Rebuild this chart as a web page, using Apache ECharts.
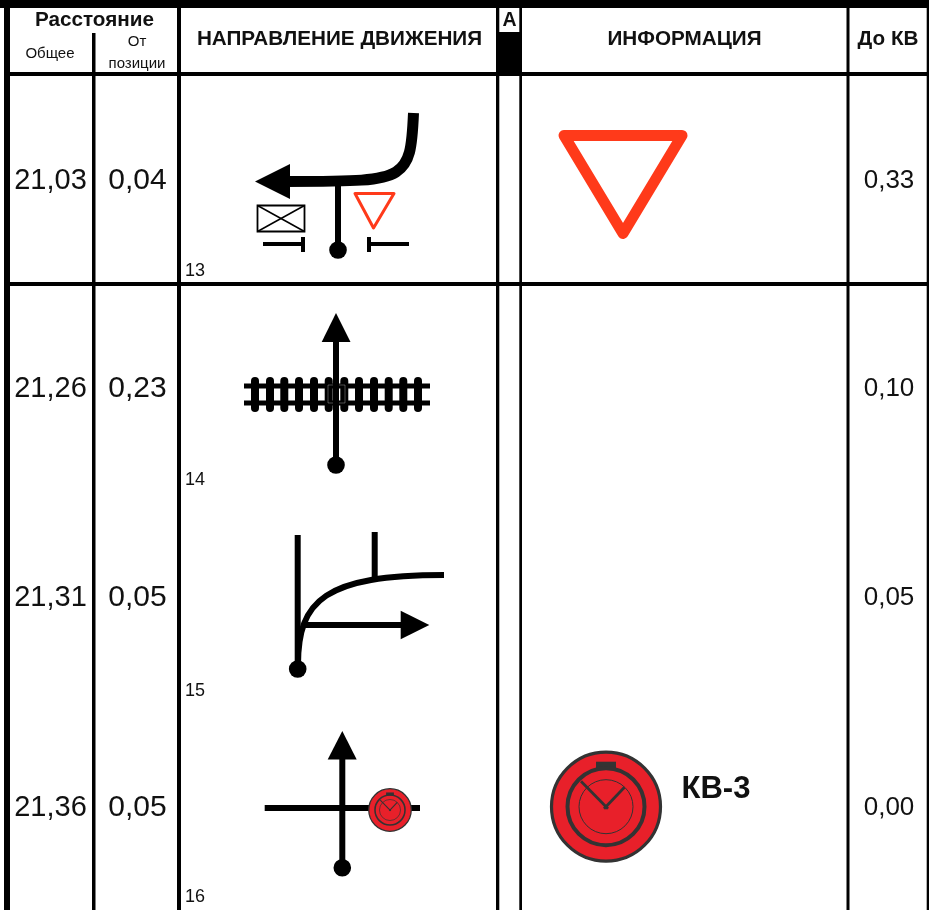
<!DOCTYPE html>
<html><head><meta charset="utf-8">
<style>html,body{margin:0;padding:0;background:#fff}#c{width:929px;height:910px}</style>
<script src="https://cdn.jsdelivr.net/npm/echarts@6/dist/echarts.min.js"></script>
</head><body><div id="c"></div>
<script>
// ---- table content ----
const totalDistance = ['21,03', '21,26', '21,31', '21,36'];
const fromPosition  = ['0,04', '0,23', '0,05', '0,05'];
const toControl     = ['0,33', '0,10', '0,05', '0,00'];
const rowNumbers    = ['13', '14', '15', '16'];
const headerMain    = ['Расстояние', 'НАПРАВЛЕНИЕ ДВИЖЕНИЯ', 'А', 'ИНФОРМАЦИЯ', 'До КВ'];
const headerSub     = ['Общее', 'От', 'позиции'];
const controlLabel  = 'КВ-3';
const trackTies     = [255, 270, 284.3, 299, 314, 328.7, 344.3, 359, 374, 388.7, 403.3, 418];

// ---- layout (axis units = page pixels) ----
const rowY = [181, 389, 598, 808];
const numY = [271, 480, 691, 897];
const BLACK = '#000', RED = '#ff3a1a', TXT = '#111', FONT = 'Liberation Sans';
const box = (x0, y0, x1, y1, fill) => ({ d: [['M', x0, y0], ['L', x1, y0], ['L', x1, y1], ['L', x0, y1], ['Z']], fill: fill || BLACK });
const line = (pts, w, color, extra) => Object.assign({ d: pts.map((p, i) => [i ? 'L' : 'M', p[0], p[1]]), stroke: color || BLACK, w: w }, extra || {});
const curve = (d, w, color) => ({ d: d, stroke: color || BLACK, w: w });
const tri = (a, b, c, fill) => ({ d: [['M', a[0], a[1]], ['L', b[0], b[1]], ['L', c[0], c[1]], ['Z']], fill: fill || BLACK });
const ring = (a, b, c, w, color) => ({ d: [['M', a[0], a[1]], ['L', b[0], b[1]], ['L', c[0], c[1]], ['Z']], stroke: color, w: w, join: 'round' });
const dot = (x, y, r, fill, stroke, w) => ({ c: [x, y], r: r, fill: fill || BLACK, stroke: stroke, w: w });

const rules = [
  box(0, 0, 929, 8),
  box(4, 0, 10, 910),
  box(926.7, 0, 929, 910),
  box(10, 72, 927, 76),
  box(10, 282, 927, 286),
  box(92, 33, 95.5, 910),
  box(177, 0, 181, 910),
  box(496, 0, 522, 76),
  box(499.3, 8, 519.3, 32, '#fff'),
  box(496, 76, 499.3, 910),
  box(519.3, 76, 522, 910),
  box(846.5, 0, 849.5, 910)
];

function clock(cx, cy, k) {
  const dk = '#333';
  return [
    dot(cx, cy, 54.5 * k, '#e8202a', dk, 3.2 * k),
    box(cx - 10 * k, cy - 45 * k, cx + 10 * k, cy - 37 * k, dk),
    dot(cx, cy, 38.5 * k, 'none', dk, 4 * k),
    dot(cx, cy, 27 * k, 'none', dk, Math.max(0.7, 1 * k)),
    line([[cx - 25 * k, cy - 25.5 * k], [cx + 2 * k, cy + 2 * k]], 2.8 * k, dk),
    line([[cx + 18.5 * k, cy - 19.5 * k], [cx - 2 * k, cy + 2 * k]], 2.8 * k, dk)
  ];
}

const glyphs = [
  // row 13
  line([[338, 184], [338, 250]], 6),
  dot(338, 250, 8.8),
  curve([['M', 413.5, 113], ['C', 412, 148, 410, 163, 396, 172], ['C', 382, 181, 355, 181.5, 285, 181.5]], 11),
  tri([255, 181.5], [290, 164], [290, 199]),
  ring([355, 193.5], [394, 193.5], [373.5, 228], 3, RED),
  { d: [['M', 257.5, 205.5], ['L', 304.5, 205.5], ['L', 304.5, 231.5], ['L', 257.5, 231.5], ['Z']], stroke: BLACK, w: 1.8, fill: '#fff' },
  line([[257.5, 205.5], [304.5, 231.5]], 1.5),
  line([[304.5, 205.5], [257.5, 231.5]], 1.5),
  line([[263, 244], [303, 244]], 4),
  line([[303, 237], [303, 252]], 4),
  line([[369, 237], [369, 252]], 4),
  line([[369, 244], [409, 244]], 4),
  ring([564, 135.5], [682, 135.5], [623, 233.5], 11, RED),
  // row 14
  ...trackTies.map(x => line([[x, 381], [x, 408]], 8, BLACK, { cap: 'round' })),
  line([[244, 386], [430, 386]], 5),
  line([[244, 403], [430, 403]], 5),
  { d: [['M', 328, 385], ['L', 345, 385], ['L', 345, 403], ['L', 328, 403], ['Z']], stroke: '#fff', w: 0.6, opacity: 0.5 },
  line([[336, 335], [336, 465]], 6),
  dot(336, 465, 8.8),
  tri([336, 313], [321.7, 342], [350.5, 342]),
  // row 15
  line([[297.7, 535], [297.7, 669]], 6),
  line([[374.7, 532], [374.7, 578]], 6),
  curve([['M', 298, 665], ['C', 298, 600, 325, 575, 444, 575]], 6),
  line([[302, 625], [405, 625]], 6),
  tri([429.3, 625], [400.7, 610.7], [400.7, 639.3]),
  dot(297.7, 669, 8.8),
  // row 16
  line([[264.7, 808], [420, 808]], 6),
  line([[342.3, 755], [342.3, 867]], 6),
  tri([342.3, 731], [327.7, 759.5], [356.7, 759.5]),
  dot(342.3, 867.7, 8.8),
  ...clock(390, 810, 0.39),
  ...clock(606, 806.7, 1)
];

const labels = [
  { t: headerMain[0], x: 94.5, y: 20, s: 20.7, b: 1 },
  { t: headerSub[0], x: 50, y: 54, s: 15 },
  { t: headerSub[1], x: 137, y: 42, s: 15 },
  { t: headerSub[2], x: 137, y: 64, s: 15 },
  { t: headerMain[1], x: 339.5, y: 39, s: 20.7, b: 1 },
  { t: headerMain[2], x: 509.5, y: 21, s: 19.5, b: 1 },
  { t: headerMain[3], x: 684.5, y: 39, s: 20.7, b: 1 },
  { t: headerMain[4], x: 888, y: 39, s: 20.7, b: 1 },
  { t: controlLabel, x: 716, y: 789, s: 31, b: 1 }
];
rowY.forEach((y, i) => {
  labels.push({ t: totalDistance[i], x: 50.5, y: y, s: 29 });
  labels.push({ t: fromPosition[i], x: 137.5, y: y, s: 30 });
  labels.push({ t: toControl[i], x: 889, y: y - 0.5, s: 26 });
  labels.push({ t: rowNumbers[i], x: 185, y: numY[i], s: 18, left: 1 });
});

function renderMark(list) {
  return function (params, api) {
    const m = list[params.dataIndex];
    const style = {
      fill: m.fill || 'none', stroke: m.stroke || null, lineWidth: m.w || 0,
      lineCap: m.cap || 'butt', lineJoin: m.join || 'miter', opacity: m.opacity == null ? 1 : m.opacity
    };
    if (m.c) {
      const c = api.coord(m.c);
      return { type: 'circle', shape: { cx: c[0], cy: c[1], r: m.r }, style: style };
    }
    const path = m.d.map(seg => {
      if (seg[0] === 'Z') return 'Z';
      const out = [seg[0]];
      for (let i = 1; i < seg.length; i += 2) out.push(api.coord([seg[i], seg[i + 1]]).join(' '));
      return out.join(' ');
    }).join(' ');
    return { type: 'path', shape: { pathData: path }, style: style };
  };
}
function renderLabel(params, api) {
  const m = labels[params.dataIndex];
  const p = api.coord([m.x, m.y]);
  return { type: 'text', style: {
    x: p[0], y: p[1], text: m.t, fill: TXT, fontFamily: FONT,
    fontSize: m.s, fontWeight: m.b ? 'bold' : 'normal',
    textAlign: m.left ? 'left' : 'center', textVerticalAlign: 'middle'
  } };
}
const layer = (name, list, fn, z) => ({
  type: 'custom', name: name, coordinateSystem: 'cartesian2d', silent: true, z: z, clip: false,
  data: list.map((_, i) => [i, i]), renderItem: fn, animation: false
});

const chart = echarts.init(document.getElementById('c'), null, { renderer: 'canvas' });
chart.setOption({
  animation: false, backgroundColor: '#fff',
  textStyle: { fontFamily: FONT },
  grid: { left: 0, right: 0, top: 0, bottom: 0 },
  xAxis: { type: 'value', min: 0, max: 929, show: false },
  yAxis: { type: 'value', min: 0, max: 910, inverse: true, show: false },
  series: [
    layer('Таблица', rules, renderMark(rules), 1),
    layer('Схемы', glyphs, renderMark(glyphs), 2),
    layer('Подписи', labels, renderLabel, 3)
  ]
});
</script></body></html>
